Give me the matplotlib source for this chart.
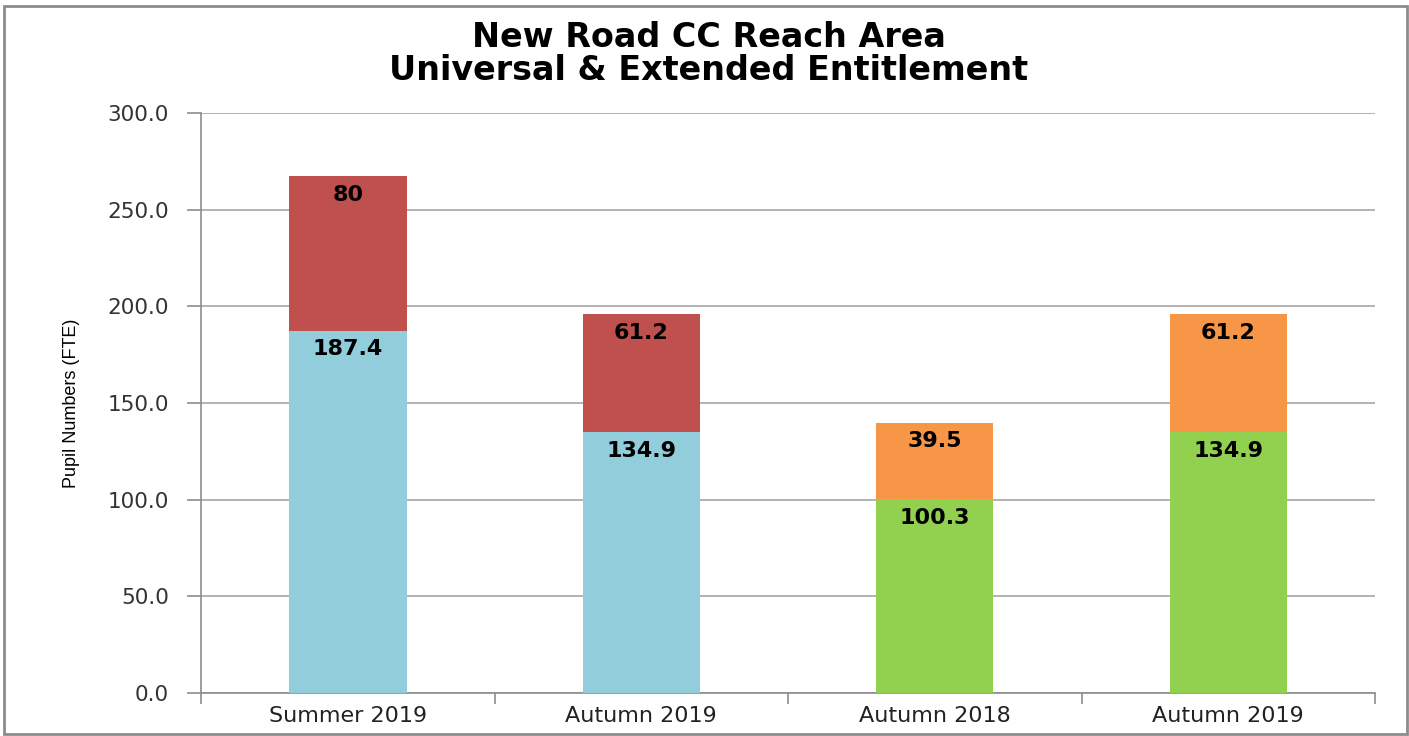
import numpy as np
import matplotlib.pyplot as plt
from matplotlib.patches import Rectangle

# chart data
categories = ["Summer 2019", "Autumn 2019", "Autumn 2018", "Autumn 2019"]
universal = [187.4, 134.9, 100.3, 134.9]
extended = [80, 61.2, 39.5, 61.2]
universal_colors = ["#92CDDC", "#92CDDC", "#92D050", "#92D050"]
extended_colors = ["#C0504D", "#C0504D", "#F79646", "#F79646"]
title = "New Road CC Reach Area\nUniversal & Extended Entitlement"

fig = plt.figure(figsize=(14.09, 7.36), dpi=100)
ax = fig.add_axes([0.1427, 0.0584, 0.8332, 0.7881])

x = np.arange(len(categories))
bars1 = ax.bar(x, universal, width=0.4, color=universal_colors, zorder=3)
bars2 = ax.bar(x, extended, width=0.4, bottom=universal, color=extended_colors, zorder=3)

# value labels just under the top of each segment
for bars, vals in [(bars1, universal), (bars2, extended)]:
    for b, v in zip(bars, vals):
        ax.annotate(f"{v:g}", (b.get_x() + b.get_width() / 2, b.get_y() + b.get_height()),
                    xytext=(0, -13.5), textcoords="offset points", ha="center", va="center",
                    fontsize=16, fontweight="bold", color="black", zorder=4)

ax.set_ylim(0, 300)
ax.set_yticks(np.arange(0, 301, 50))
ax.set_yticklabels([f"{t:.1f}" for t in np.arange(0, 301, 50)], fontsize=15.5, color="#333333")
ax.yaxis.grid(True, color="#A6A6A6", linewidth=1.2, zorder=0)

ax.set_xlim(-0.5, 3.5)
ax.set_xticks(np.arange(-0.5, 3.6, 1.0))
ax.set_xticklabels([])
ax.set_xticks(x, minor=True)
ax.set_xticklabels(categories, minor=True, fontsize=16, color="#222222")
ax.tick_params(axis="x", which="minor", length=0, pad=9)
ax.tick_params(axis="x", which="major", length=8, color="#8C8C8C", width=1.2)
ax.tick_params(axis="y", length=10, color="#8C8C8C", width=1.2, pad=13)

for s in ["top", "right"]:
    ax.spines[s].set_visible(False)
for s in ["left", "bottom"]:
    ax.spines[s].set_color("#8C8C8C")
    ax.spines[s].set_linewidth(1.2)

ax.set_ylabel("Pupil Numbers (FTE)", fontsize=13, family=["Liberation Sans Narrow", "Liberation Sans"], labelpad=20)

fig.text(0.503, 0.926, title, ha="center", va="center", fontsize=24, fontweight="bold", linespacing=1.0)

# grey frame round the chart
fig.patches.append(Rectangle((4 / 1409, 2 / 736), 1403 / 1409, 728 / 736, transform=fig.transFigure,
                             fill=False, edgecolor="#8C8C8C", linewidth=2))

plt.savefig("out.png", dpi=100)
